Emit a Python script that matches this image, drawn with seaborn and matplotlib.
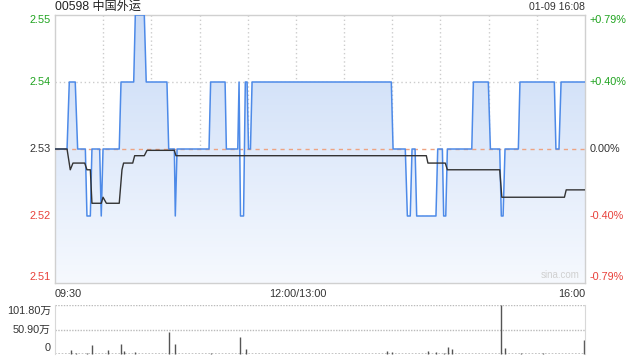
import numpy as np
import pandas as pd
import matplotlib
matplotlib.use("Agg")
import matplotlib.pyplot as plt
import seaborn as sns
from matplotlib.colors import LinearSegmentedColormap
from matplotlib.transforms import blended_transform_factory, ScaledTranslation

# ---------------- data ----------------
title = "00598 中国外运"
timestamp = "01-09 16:08"
prev_close = 2.53
price_ticks = [2.55, 2.54, 2.53, 2.52, 2.51]
pct_labels = ["+0.79%", "+0.40%", "0.00%", "-0.40%", "-0.79%"]
time_labels = ["09:30", "12:00/13:00", "16:00"]
vol_ticks = [101.8, 50.9, 0]
vol_tick_labels = ["101.80万", "50.90万", "0"]

# minutes since 09:30 (lunch break removed, 330 = 16:00)
price_t = [0, 7.5, 8.9, 12.6, 14.1, 18.9, 19.9, 22, 23, 27.8, 28.8, 29.9, 40, 41.1,
           49, 50, 55.6, 56.8, 69.7, 70.8, 74.3, 74.9, 76, 95.9, 96.9, 105.9, 106.7,
           113.8, 114.6, 115.5, 117.4, 118.5, 119.6, 120.5, 121.7, 122.7, 209.4,
           210.5, 218.1, 219.4, 221.2, 222.3, 224.2, 225.2, 237.2, 238.3, 241.2,
           242, 243.3, 244.3, 259.5, 260.5, 269.8, 271.1, 276.9, 277.9, 279, 280.2,
           288.5, 289.5, 310.9, 311.9, 313.8, 315.1, 330]
price_v = [2.53, 2.53, 2.54, 2.54, 2.53, 2.53, 2.52, 2.52, 2.53, 2.53, 2.52, 2.53, 2.53, 2.54,
           2.54, 2.55, 2.55, 2.54, 2.54, 2.53, 2.53, 2.52, 2.53, 2.53, 2.54, 2.54, 2.53,
           2.53, 2.54, 2.52, 2.52, 2.54, 2.54, 2.53, 2.53, 2.54, 2.54,
           2.53, 2.53, 2.52, 2.52, 2.53, 2.53, 2.52, 2.52, 2.53, 2.53,
           2.52, 2.52, 2.53, 2.53, 2.54, 2.54, 2.53, 2.53, 2.52, 2.52, 2.53,
           2.53, 2.54, 2.54, 2.53, 2.53, 2.54, 2.54]

avg_t = [0, 7.5, 9.5, 11.2, 18.5, 19.9, 22, 23, 28.8, 29.9, 32, 40, 41.7, 42.7, 48.4,
         49.6, 55.6, 57.3, 74.3, 75.3, 231.2, 232.2, 243.0, 244.3, 276.9, 278.2,
         317.2, 318.3, 330]
avg_v = [2.53, 2.53, 2.5269, 2.5279, 2.5279, 2.5269, 2.5269, 2.5219, 2.5219, 2.5228,
         2.5219, 2.5219, 2.5269, 2.5279, 2.5279, 2.529, 2.529, 2.5298, 2.5298, 2.529,
         2.529, 2.5279, 2.5279, 2.5269, 2.5269, 2.5228, 2.5228, 2.5239, 2.5239]

# volume in 万 shares
vol_t = [10, 13, 20, 23, 33, 41, 43, 50, 71, 75, 97, 115, 119, 207, 210, 232, 237,
         242, 245, 247, 278, 280, 290, 304, 329.4]
vol_v = [9, 3, 3, 19, 9, 21, 7, 5, 46, 21, 3, 35, 10, 7, 4, 7, 4,
         3, 15, 11, 101.8, 12, 3, 3, 30]

# ---------------- style ----------------
sns.set_style("white")
plt.rcParams["font.family"] = ["Liberation Sans", "Noto Sans CJK SC", "DejaVu Sans"]

W, H = 640, 360
fig = plt.figure(figsize=(W / 100, H / 100), dpi=100)
L, R = 55, 585
ax = fig.add_axes([L / W, 1 - 283 / H, (R - L) / W, (283 - 15) / H])
axv = fig.add_axes([L / W, 1 - 354 / H, (R - L) / W, (354 - 305) / H])

GREEN = "#1ea31e"
RED = "#e8403a"
DARK = "#333333"
GRID = "#cccccc"
LINE = "#4d8ae8"

ax.set_xlim(0, 330)
ax.set_ylim(2.51, 2.55)
axv.set_xlim(0, 330)
axv.set_ylim(0, 101.8)

for a in (ax, axv):
    a.set_xticks([])
    a.set_yticks([])
    a.set_facecolor("white")
for s in ax.spines.values():
    s.set_color("#d0d0d0")
    s.set_linewidth(1)
axv.spines["top"].set_visible(False)
axv.spines["bottom"].set_visible(False)
axv.spines["left"].set_color("#d8d8d8")
axv.spines["right"].set_color("#d8d8d8")

# grid
for m in range(30, 330, 30):
    ax.axvline(m, color=GRID, ls=(0, (1, 2)), lw=1, zorder=0.5)
for p in (2.54, 2.52):
    ax.axhline(p, color=GRID, ls=(0, (1, 2)), lw=1, zorder=0.5)

# gradient fill under price line
poly = ax.fill_between(price_t, price_v, 2.51, color="none", lw=0)
cmap = LinearSegmentedColormap.from_list("g", ["#f6f9fe", "#c9dbf7"])
grad = np.linspace(0, 1, 256).reshape(-1, 1)
im = ax.imshow(grad, extent=[0, 330, 2.51, 2.55], aspect="auto", origin="lower",
               cmap=cmap, zorder=1, interpolation="bilinear")
im.set_clip_path(poly.get_paths()[0], transform=ax.transData)

# previous close
ax.axhline(prev_close, color="#eea382", ls=(0, (3, 3)), lw=1, zorder=1.5)

df_p = pd.DataFrame({"t": price_t, "p": price_v})
df_a = pd.DataFrame({"t": avg_t, "p": avg_v})
sns.lineplot(data=df_p, x="t", y="p", ax=ax, color=LINE, lw=1.1, estimator=None,
             sort=False, zorder=3)
sns.lineplot(data=df_a, x="t", y="p", ax=ax, color=DARK, lw=1, estimator=None,
             sort=False, zorder=4)
ax.set_xlabel("")
ax.set_ylabel("")

# volume
for v in (101.8, 50.9):
    axv.axhline(v, color="#bbbbbb", ls=(0, (1, 1)), lw=1, zorder=0.5)
axv.axhline(0, color="#bbbbbb", ls=(0, (1, 1)), lw=1.2, zorder=0.5)
axv.vlines(vol_t, 0, vol_v, color="#555555", lw=1, zorder=2, clip_on=False)


def off(dx, dy):
    return ScaledTranslation(dx / 100, dy / 100, fig.dpi_scale_trans)


FS = 7.8
tr_l = blended_transform_factory(ax.transAxes, ax.transData)
colors = [GREEN, GREEN, DARK, RED, RED]
nudges = [-5, 0, 0, 0, 6]
for p, lab, c, n in zip(price_ticks, pct_labels, colors, nudges):
    ax.text(0, p, f"{p:.2f}", transform=tr_l + off(-4, n), ha="right", va="center",
            color=c, fontsize=FS)
    ax.text(1, p, lab, transform=tr_l + off(5, n), ha="left", va="center",
            color=c, fontsize=FS)

tr_v = blended_transform_factory(axv.transAxes, axv.transData)
for v, lab, n in zip(vol_ticks, vol_tick_labels, [-6, 0, 6]):
    axv.text(0, v, lab, transform=tr_v + off(-4, n), ha="right", va="center",
             color=DARK, fontsize=FS)

# x labels
ty = 1 - 294 / H
fig.text(L / W, ty, time_labels[0], ha="left", va="center", color=DARK, fontsize=FS)
fig.text(298 / W, ty, time_labels[1], ha="center", va="center", color=DARK, fontsize=FS)
fig.text(R / W, ty, time_labels[2], ha="right", va="center", color=DARK, fontsize=FS)

fig.text(L / W, 1 - 7 / H, title, ha="left", va="center", color="#222222", fontsize=8.7)
fig.text(R / W, 1 - 7 / H, timestamp, ha="right", va="center", color=DARK, fontsize=7.6)
ax.text(0.99, 0.03, "sina.com", transform=ax.transAxes, ha="right", va="center",
        color="#d0d0d0", fontsize=7)

fig.savefig("out.png", dpi=100)
